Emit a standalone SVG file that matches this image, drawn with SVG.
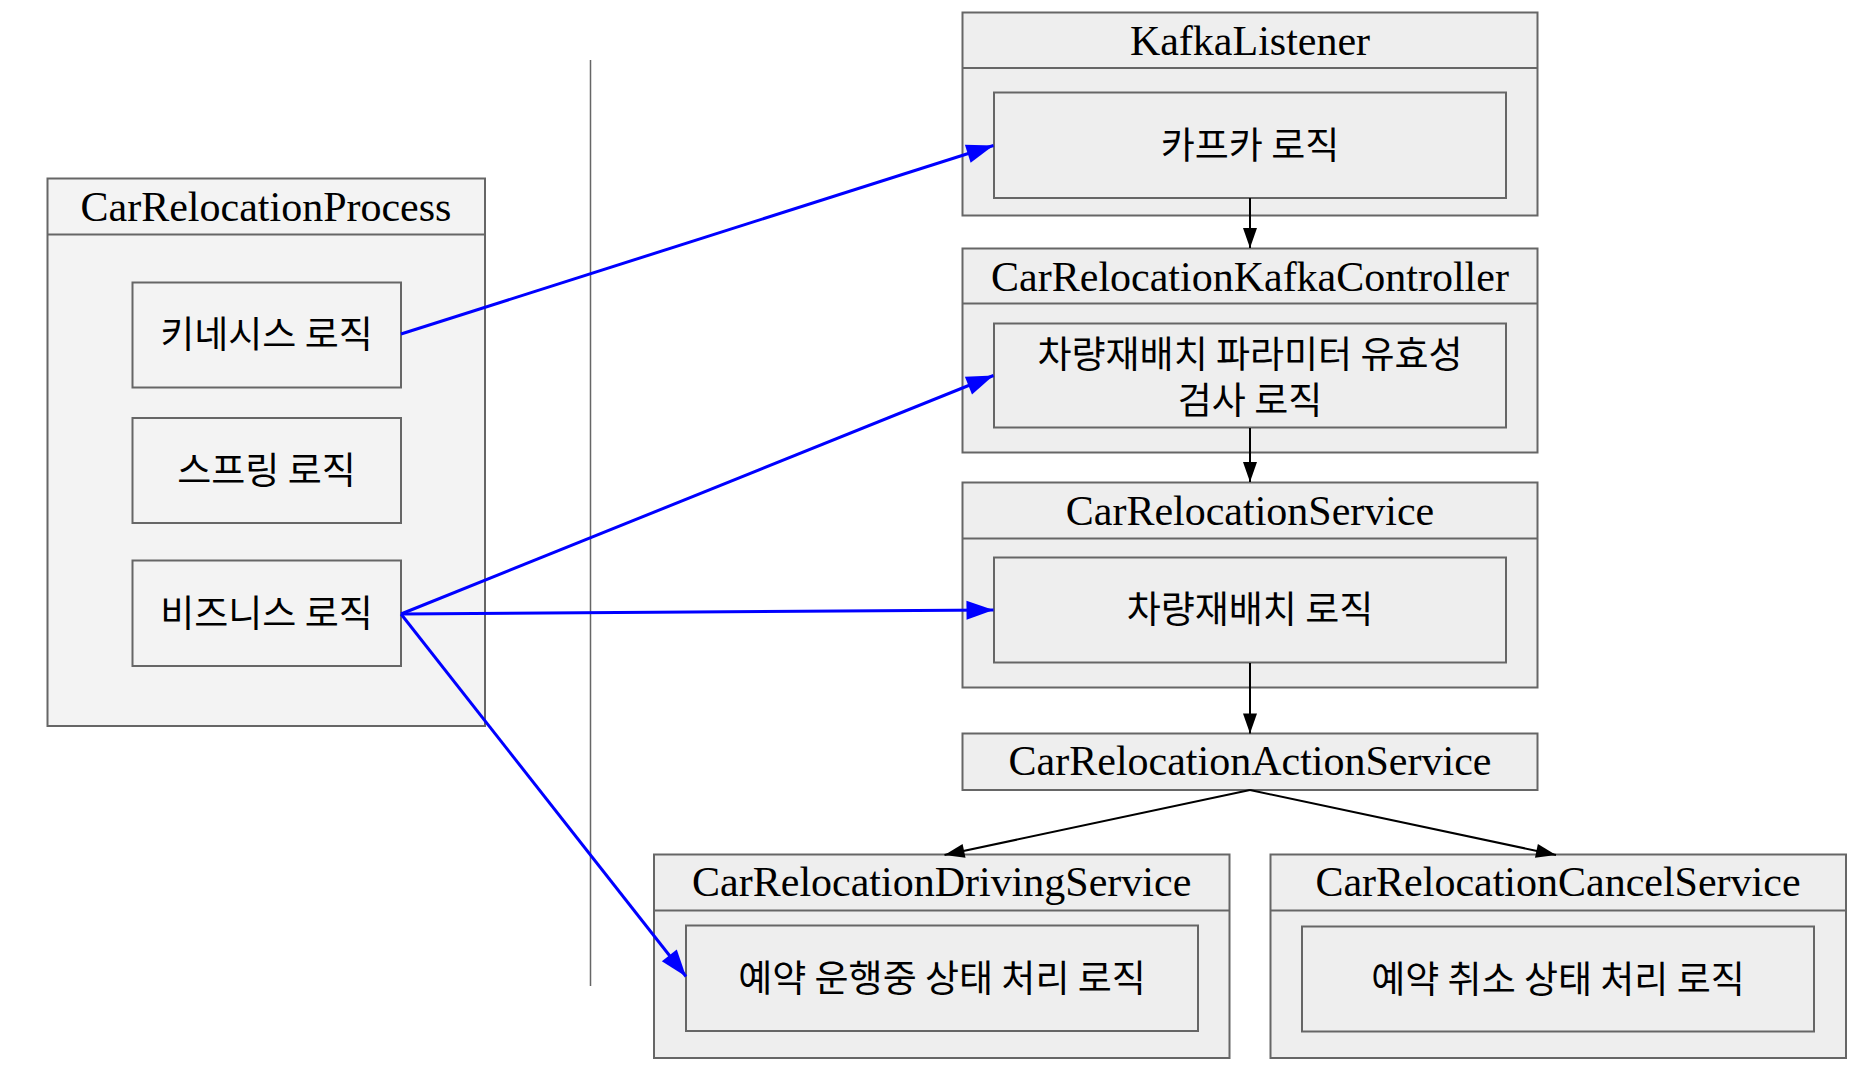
<svg xmlns="http://www.w3.org/2000/svg" width="1866" height="1086" viewBox="0 0 1866 1086">
<defs>
<style>
.box{stroke:#666666;stroke-width:2}
.lb{fill:#f3f3f3}
.rb{fill:#eeeeee}
.t{font-family:"Liberation Serif","Times New Roman",serif;font-size:42px;fill:#000;text-anchor:middle}
.k{font-family:"Noto Sans CJK KR","Noto Sans",sans-serif;font-size:37px;fill:#000;text-anchor:middle}
.blue{stroke:#0000ff;stroke-width:3;fill:none}
.blk{stroke:#000;stroke-width:2;fill:none}
</style>
<marker id="ab" markerUnits="userSpaceOnUse" markerWidth="27" markerHeight="19" refX="27" refY="9.5" orient="auto" overflow="visible">
<path d="M0,0 L27,9.5 L0,19 z" fill="#0000ff"/>
</marker>
<marker id="ak" markerUnits="userSpaceOnUse" markerWidth="20" markerHeight="14" refX="20" refY="7" orient="auto" overflow="visible">
<path d="M0,0 L20,7 L0,14 z" fill="#000"/>
</marker>
</defs>
<rect width="1866" height="1086" fill="#ffffff"/>

<line x1="590.5" y1="60" x2="590.5" y2="986" stroke="#666666" stroke-width="1.5"/>

<g id="CarRelocationProcess">
<rect class="box lb" x="47.5" y="178.5" width="437.5" height="547.5"/>
<line class="box" x1="47.5" y1="234.5" x2="485" y2="234.5"/>
<text class="t" x="266" y="221">CarRelocationProcess</text>
</g>
<g id="kinesis">
<rect class="box lb" x="132.5" y="282.5" width="268.5" height="105"/>
<text class="k" x="266.5" y="348">키네시스 로직</text>
</g>
<g id="spring">
<rect class="box lb" x="132.5" y="418" width="268.5" height="105"/>
<text class="k" x="266.5" y="484">스프링 로직</text>
</g>
<g id="business">
<rect class="box lb" x="132.5" y="560.5" width="268.5" height="105.5"/>
<text class="k" x="266.5" y="627">비즈니스 로직</text>
</g>

<g id="KafkaListener">
<rect class="box rb" x="962.5" y="12.5" width="575" height="203"/>
<line class="box" x1="962.5" y1="68" x2="1537.5" y2="68"/>
<text class="t" x="1250" y="54.5">KafkaListener</text>
<rect class="box rb" x="994" y="92.5" width="512" height="105.5"/>
<text class="k" x="1250" y="159">카프카 로직</text>
</g>

<g id="CarRelocationKafkaController">
<rect class="box rb" x="962.5" y="248.5" width="575" height="204"/>
<line class="box" x1="962.5" y1="303.5" x2="1537.5" y2="303.5"/>
<text class="t" x="1250" y="290.5">CarRelocationKafkaController</text>
<rect class="box rb" x="994" y="323.5" width="512" height="104"/>
<text class="k" x="1250" y="368"><tspan x="1250" y="368">차량재배치 파라미터 유효성</tspan><tspan x="1250" y="414">검사 로직</tspan></text>
</g>

<g id="CarRelocationService">
<rect class="box rb" x="962.5" y="482.5" width="575" height="205"/>
<line class="box" x1="962.5" y1="538.5" x2="1537.5" y2="538.5"/>
<text class="t" x="1250" y="524.5">CarRelocationService</text>
<rect class="box rb" x="994" y="557.5" width="512" height="105"/>
<text class="k" x="1250" y="623">차량재배치 로직</text>
</g>

<g id="CarRelocationActionService">
<rect class="box rb" x="962.5" y="733.5" width="575" height="56.5"/>
<text class="t" x="1250" y="775">CarRelocationActionService</text>
</g>

<g id="CarRelocationDrivingService">
<rect class="box rb" x="654" y="854.5" width="575.5" height="203.5"/>
<line class="box" x1="654" y1="910.5" x2="1229.5" y2="910.5"/>
<text class="t" x="941.7" y="896">CarRelocationDrivingService</text>
<rect class="box rb" x="686" y="925.5" width="512" height="105.5"/>
<text class="k" x="942" y="992">예약 운행중 상태 처리 로직</text>
</g>

<g id="CarRelocationCancelService">
<rect class="box rb" x="1270.5" y="854.5" width="575.5" height="203.5"/>
<line class="box" x1="1270.5" y1="910.5" x2="1846" y2="910.5"/>
<text class="t" x="1558" y="896">CarRelocationCancelService</text>
<rect class="box rb" x="1302" y="926.5" width="512" height="105"/>
<text class="k" x="1558" y="993">예약 취소 상태 처리 로직</text>
</g>

<g id="connectors">
<line class="blue" x1="401" y1="334" x2="993.5" y2="145.5" marker-end="url(#ab)"/>
<line class="blue" x1="401" y1="614" x2="993.5" y2="375.5" marker-end="url(#ab)"/>
<line class="blue" x1="401" y1="614" x2="993.5" y2="610" marker-end="url(#ab)"/>
<line class="blue" x1="401" y1="614" x2="686" y2="976.5" marker-end="url(#ab)"/>
<line class="blk" x1="1250" y1="198" x2="1250" y2="248" marker-end="url(#ak)"/>
<line class="blk" x1="1250" y1="428" x2="1250" y2="482" marker-end="url(#ak)"/>
<line class="blk" x1="1250" y1="663" x2="1250" y2="733.5" marker-end="url(#ak)"/>
<line class="blk" x1="1250" y1="790" x2="944.5" y2="855" marker-end="url(#ak)"/>
<line class="blk" x1="1250" y1="790" x2="1556" y2="855" marker-end="url(#ak)"/>
</g>
</svg>
